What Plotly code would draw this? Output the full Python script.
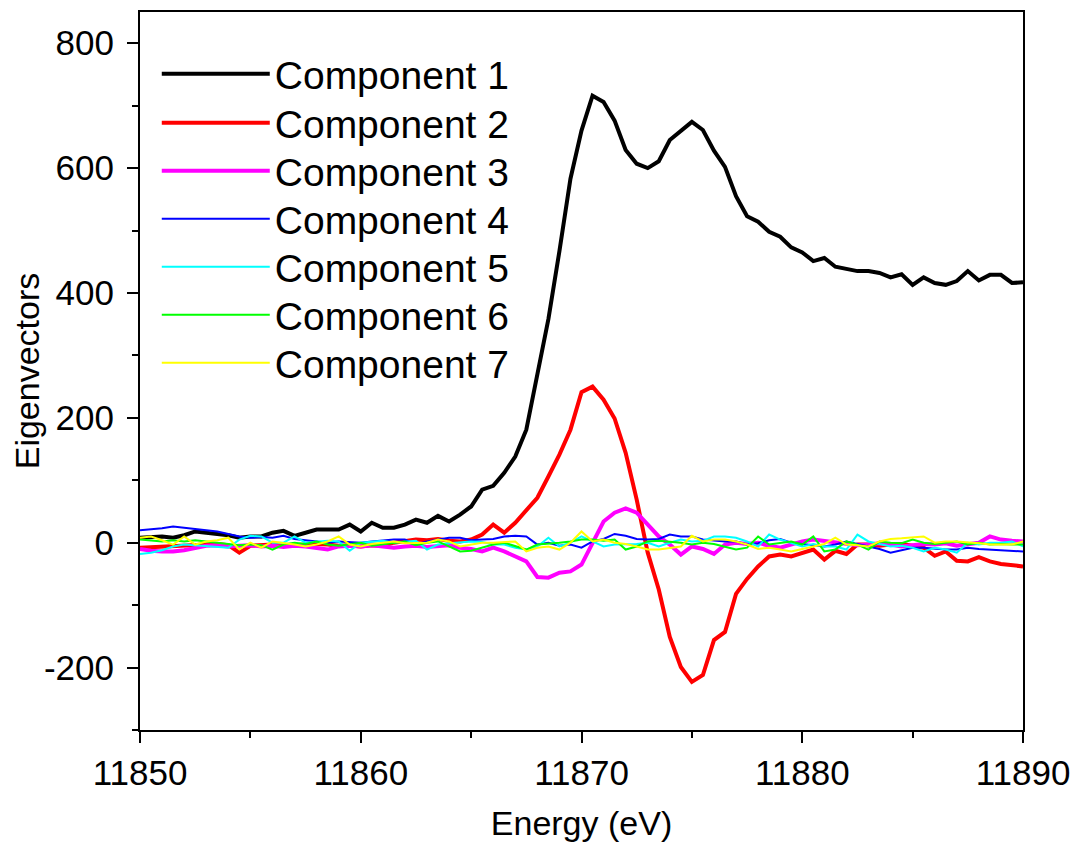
import plotly.graph_objects as go

energy = [11850 + 0.5 * i for i in range(81)]

comp1 = [8, 9, 10, 8, 12, 18, 16, 14, 12, 8, 10,
         10, 16, 19, 11, 16, 21, 21, 21, 29, 18,
         32, 24, 24, 29, 37, 32, 43, 34, 45, 58,
         85, 91, 112, 138, 181, 266, 358, 467, 583, 660,
         716, 706, 676, 629, 607, 600, 611, 645, 660, 674,
         661, 628, 602, 555, 523, 514, 498, 490, 473, 465,
         451, 456, 442, 438, 435, 435, 432, 425, 430, 413,
         425, 416, 413, 419, 435, 420, 429, 429, 416, 417]

comp2 = [-8, -7, -6, -5, -4, -3, -3, -2, -4, -16, -5,
         -4, -3, -5, -4, -3, -2, -3, -5, -4, -6,
         -4, -5, 0, 2, 5, 4, 6, 3, 2, 5,
         13, 29, 16, 32, 53, 72, 106, 141, 181, 241,
         250, 229, 199, 144, 69, -16, -75, -151, -199, -223,
         -212, -156, -143, -82, -58, -38, -22, -19, -22, -16,
         -11, -27, -13, -18, -3, -3, -5, -3, -2, -5,
         -8, -21, -14, -29, -30, -23, -30, -34, -36, -38]

comp3 = [-10, -13, -14, -14, -12, -8, -5, -4, -6, -5, -4,
         -6, -5, -7, -5, -6, -8, -11, -6, -5, -6,
         -4, -6, -8, -6, -5, -7, -6, -4, -8, -10,
         -14, -8, -14, -22, -30, -55, -56, -48, -46, -35,
         0, 34, 48, 55, 48, 29, 10, -3, -19, -6,
         -10, -18, -3, 0, -2, 0, -5, -8, -3, 2,
         5, 3, 0, -2, -4, -3, -1, -3, -6, -4,
         -2, -3, -1, -5, -3, 0, 10, 5, 3, 2]

comp4 = [20, 21, 23, 26, 24, 22, 20, 18, 14, 10, 8,
         9, 8, 11, 6, 4, 2, 0, 2, 1, 0,
         2, 4, 5, 5, -3, 2, 5, 8, 8, 4,
         5, 6, 10, 11, 10, -3, 0, -5, -3, -8,
         2, 6, 14, 11, 6, 5, 6, 13, 10, 10,
         5, 3, 2, 2, -3, -1, 4, 6, 0, -2,
         -4, -6, -3, 2, -2, -6, -10, -16, -12, -8,
         -8, -10, -11, -11, -8, -10, -11, -12, -13, -14]

comp5 = [-18, -16, -12, -6, -3, -4, -5, -6, -8, 5, 11,
         10, 0, 0, 10, 0, 2, 3, 2, -13, 0,
         2, 3, 0, 1, 3, -11, -3, -1, 0, 2,
         1, -3, -3, -8, -11, -6, 8, -6, 0, 10,
         2, -6, -3, -3, -2, 0, -6, 0, 5, 2,
         3, 10, 10, 8, 2, -6, 13, 5, 0, -6,
         -2, -6, -6, -11, 13, 2, -2, -6, -5, -8,
         -14, -8, -11, -16, 0, -3, 0, 0, 2, -6]

comp6 = [5, 3, 2, 4, 2, 4, 2, 0, -2, -4, -3,
         -4, -11, -3, 0, -2, 2, -3, -5, -2, 0,
         -5, -3, 0, 2, -4, 0, 2, -6, -14, -13,
         -8, -3, 0, -6, -11, -3, -2, 0, 2, 5,
         5, 3, 5, -11, -6, 2, 3, 2, 0, -3,
         0, -2, -6, -11, -8, 10, -3, 0, 2, -3,
         10, -14, -11, 2, -3, -11, 2, 0, -1, 5,
         0, -2, 0, 2, -3, 0, -3, -2, -3, -3]

comp7 = [8, 10, 4, -3, 10, -3, 2, 4, 8, -11, 0,
         -8, 2, 0, -3, -6, -3, 2, 10, -3, -6,
         -2, 0, 2, -1, 0, 0, 5, 2, -6, -3,
         0, 0, 1, 2, -14, -8, -6, -11, 0, 18,
         2, 5, 0, -2, -6, -11, -11, -8, -6, 11,
         2, 5, 5, 2, -3, -10, -8, -11, -14, -10,
         -6, -2, 8, -3, -4, -6, 2, 6, 7, 8,
         10, 0, 2, 2, 1, -1, -3, -3, -3, 2]

names = ["Component 1", "Component 2", "Component 3", "Component 4",
         "Component 5", "Component 6", "Component 7"]
series = [comp1, comp2, comp3, comp4, comp5, comp6, comp7]
colors = ["#000000", "#FF0000", "#FF00FF", "#0000FF", "#00FFFF", "#00FF00", "#FFFF00"]
widths = [4, 4, 4, 2, 2, 2, 2]

x_ticks = [11850, 11860, 11870, 11880, 11890]
x_ticktext = ["11850", "11860", "11870", "11880", "11890"]
y_ticks = [-200, 0, 200, 400, 600, 800]
y_ticktext = ["-200", "0", "200", "400", "600", "800"]

font_family = "Liberation Sans, Arial, sans-serif"

# page body has an 8px margin, so the figure is shrunk by that amount
fig_w, fig_h = 1070, 838
m_l, m_r, m_t, m_b = 132, 55, 4, 116
plot_h = fig_h - m_t - m_b

# one legend per entry so the row spacing can match the reference
legend_ids = ["legend", "legend2", "legend3", "legend4", "legend5", "legend6", "legend7"]
legend_rows_px = [66, 115, 163, 211, 259, 307, 355]  # row centres, figure coords

fig = go.Figure()
for n, s, c, w, lid in zip(names, series, colors, widths, legend_ids):
    fig.add_trace(go.Scatter(x=energy, y=s, mode="lines", name=n, legend=lid,
                             line=dict(color=c, width=w)))

axis_common = dict(
    showline=True, linecolor="black", linewidth=2, mirror=True,
    ticks="outside", ticklen=11, tickwidth=2, tickcolor="black",
    showgrid=False, zeroline=False, automargin=False,
    tickfont=dict(family=font_family, size=35, color="black"),
)
fig.update_xaxes(range=[11850, 11890], tickvals=x_ticks, ticktext=x_ticktext,
                 minor=dict(ticks="outside", ticklen=6, tickwidth=2, dtick=5, tick0=11850, tickcolor="black"),
                 title=dict(text="Energy (eV)", font=dict(family=font_family, size=34, color="black"), standoff=20),
                 **axis_common)
fig.update_yaxes(range=[-300, 850], tickvals=y_ticks, ticktext=y_ticktext,
                 ticklabelstandoff=6,
                 minor=dict(ticks="outside", ticklen=6, tickwidth=2, dtick=100, tick0=0, tickcolor="black"),
                 title=dict(text="Eigenvectors", font=dict(family=font_family, size=34, color="black"), standoff=4),
                 **axis_common)

layout_legends = {}
for lid, ypx in zip(legend_ids, legend_rows_px):
    layout_legends[lid] = dict(
        x=0.019, y=(fig_h - m_b - ypx) / plot_h,
        xanchor="left", yanchor="middle",
        bgcolor="rgba(0,0,0,0)", borderwidth=0,
        font=dict(family=font_family, size=39, color="black"),
        itemwidth=108,
    )

fig.update_layout(
    width=fig_w, height=fig_h,
    margin=dict(l=m_l, r=m_r, t=m_t, b=m_b, autoexpand=False),
    plot_bgcolor="white", paper_bgcolor="white",
    showlegend=True,
    hovermode=False,
    **layout_legends,
)

fig.write_html("out.html")
